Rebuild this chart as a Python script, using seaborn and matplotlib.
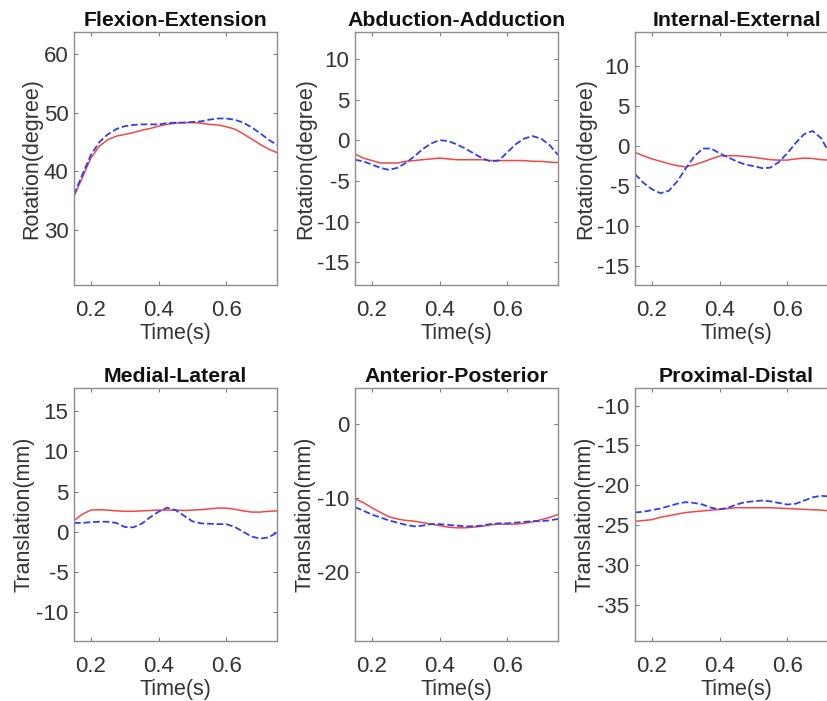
import numpy as np
import pandas as pd
import matplotlib
matplotlib.use("Agg")
import matplotlib.pyplot as plt
import seaborn as sns

# time axis (s)
time_s = [0.15, 0.175, 0.2, 0.225, 0.25, 0.275, 0.3, 0.325, 0.35, 0.375, 0.4, 0.425,
          0.45, 0.475, 0.5, 0.525, 0.55, 0.575, 0.6, 0.625, 0.65, 0.675, 0.7, 0.725, 0.75]

titles = ["Flexion-Extension", "Abduction-Adduction", "Internal-External",
          "Medial-Lateral", "Anterior-Posterior", "Proximal-Distal"]
ylabels = ["Rotation(degree)"] * 3 + ["Translation(mm)"] * 3

# red solid curves
red_fe = [35.8, 39.0, 42.3, 44.3, 45.4, 46.0, 46.3, 46.6, 47.0, 47.3, 47.7, 48.0, 48.2,
          48.3, 48.3, 48.2, 48.0, 47.9, 47.6, 47.2, 46.4, 45.5, 44.6, 43.8, 43.2]
red_aa = [-1.7, -2.2, -2.5, -2.8, -2.8, -2.8, -2.6, -2.5, -2.4, -2.3, -2.2, -2.3, -2.4,
          -2.4, -2.4, -2.4, -2.5, -2.5, -2.5, -2.5, -2.5, -2.6, -2.6, -2.7, -2.75]
red_ie = [-0.8, -1.2, -1.6, -1.9, -2.2, -2.45, -2.6, -2.35, -2.0, -1.6, -1.25, -1.2, -1.2,
          -1.3, -1.4, -1.55, -1.7, -1.75, -1.75, -1.6, -1.5, -1.55, -1.7, -1.75, -1.8]
red_ml = [1.4, 2.2, 2.7, 2.75, 2.7, 2.6, 2.55, 2.55, 2.6, 2.65, 2.7, 2.7, 2.7, 2.65, 2.7,
          2.75, 2.85, 2.95, 2.95, 2.8, 2.6, 2.45, 2.45, 2.55, 2.6]
red_ap = [-10.1, -10.6, -11.3, -11.9, -12.5, -12.8, -13.0, -13.1, -13.3, -13.5, -13.7, -13.9,
          -14.0, -14.0, -13.9, -13.8, -13.6, -13.5, -13.5, -13.5, -13.4, -13.2, -12.9, -12.6, -12.2]
red_pd = [-24.5, -24.4, -24.3, -24.0, -23.8, -23.6, -23.4, -23.3, -23.2, -23.1, -23.0, -22.9,
          -22.8, -22.8, -22.8, -22.8, -22.8, -22.85, -22.9, -22.95, -23.0, -23.05, -23.1, -23.2, -23.3]

# blue dashed curves
blue_fe = [36.0, 39.5, 42.8, 45.0, 46.3, 47.2, 47.7, 47.9, 48.0, 48.0, 48.0, 48.2, 48.3,
           48.3, 48.4, 48.5, 48.8, 49.0, 49.0, 48.8, 48.3, 47.5, 46.5, 45.4, 44.5]
blue_aa = [-2.4, -2.6, -3.0, -3.4, -3.65, -3.4, -2.8, -2.0, -1.1, -0.4, 0.0, -0.1, -0.5,
           -1.0, -1.6, -2.2, -2.6, -2.5, -1.5, -0.5, 0.2, 0.5, 0.2, -0.6, -1.8]
blue_ie = [-3.5, -4.6, -5.4, -5.9, -5.6, -4.4, -2.8, -1.3, -0.3, -0.3, -0.9, -1.4, -1.9,
           -2.3, -2.5, -2.75, -2.7, -2.0, -0.9, 0.4, 1.5, 1.9, 1.0, -0.9, -2.5]
blue_ml = [1.1, 1.1, 1.2, 1.25, 1.25, 1.1, 0.6, 0.55, 1.0, 1.8, 2.5, 3.0, 2.7, 2.0, 1.3,
           1.05, 1.0, 0.95, 0.95, 0.6, 0.0, -0.6, -0.85, -0.7, -0.1]
blue_ap = [-11.2, -11.7, -12.2, -12.6, -13.0, -13.3, -13.6, -13.8, -13.7, -13.5, -13.5, -13.6,
           -13.7, -13.8, -13.8, -13.7, -13.5, -13.4, -13.4, -13.3, -13.2, -13.1, -13.1, -13.0, -12.8]
blue_pd = [-23.4, -23.3, -23.1, -22.9, -22.6, -22.3, -22.1, -22.2, -22.4, -22.8, -23.0, -22.8,
           -22.4, -22.1, -22.0, -21.9, -22.0, -22.2, -22.4, -22.3, -21.9, -21.5, -21.3, -21.4, -21.6]

red_all = [red_fe, red_aa, red_ie, red_ml, red_ap, red_pd]
blue_all = [blue_fe, blue_aa, blue_ie, blue_ml, blue_ap, blue_pd]

ylims = [(20.7, 63.7), (-17.8, 13.3), (-17.4, 14.3), (-13.6, 17.9), (-29.3, 4.9), (-39.5, -7.8)]
yticks = [[30, 40, 50, 60], [-15, -10, -5, 0, 5, 10], [-15, -10, -5, 0, 5, 10],
          [-10, -5, 0, 5, 10, 15], [-20, -10, 0], [-35, -30, -25, -20, -15, -10]]
xticks = [0.2, 0.4, 0.6]

sns.set_style("ticks")
plt.rcParams['font.family'] = ['Liberation Sans', 'DejaVu Sans']
plt.rcParams['axes.unicode_minus'] = False
plt.rcParams['xtick.direction'] = 'in'
plt.rcParams['ytick.direction'] = 'in'

W, H = 828, 701
fig = plt.figure(figsize=(W / 100, H / 100), dpi=100)

lefts = [74, 355, 635]
tops = [32, 388]
aw, ah = 203, 253

for i in range(6):
    r, c = divmod(i, 3)
    ax = fig.add_axes([lefts[c] / W, 1 - (tops[r] + ah) / H, aw / W, ah / H])
    df = pd.DataFrame({"t": time_s, "red": red_all[i], "blue": blue_all[i]})
    sns.lineplot(data=df, x="t", y="red", ax=ax, color="#f54545", lw=1.1)
    sns.lineplot(data=df, x="t", y="blue", ax=ax, color="#2d3ff0", lw=1.3, linestyle="--")
    ax.set_xlim(0.15, 0.75)
    ax.set_ylim(*ylims[i])
    ax.set_xticks(xticks)
    ax.set_xticklabels(["0.2", "0.4", "0.6"])
    ax.set_yticks(yticks[i])
    ax.tick_params(top=True, right=True, labelsize=16, colors="#333333", length=3,
                   width=0.8, color="#808080")
    ax.tick_params(axis="x", pad=11)
    ax.tick_params(axis="y", pad=4)
    for s in ax.spines.values():
        s.set_color("#8c8c8c")
        s.set_linewidth(1.0)
    ax.set_title(titles[i], fontsize=15.3, fontweight="bold", pad=4, color="#111111")
    ax.set_xlabel("Time(s)", fontsize=15.5, color="#333333", labelpad=1)
    ax.set_ylabel(ylabels[i], fontsize=15.5, color="#333333", labelpad=1)

fig.savefig("out.png", dpi=100)
